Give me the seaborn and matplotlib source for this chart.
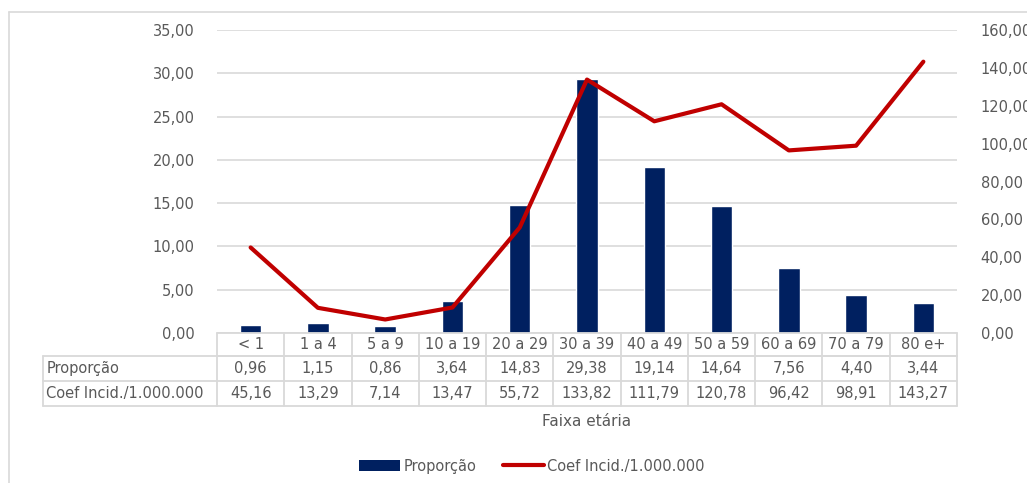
import numpy as np
import pandas as pd
import seaborn as sns
import matplotlib.pyplot as plt
from matplotlib.lines import Line2D
from matplotlib.patches import Patch
from matplotlib.ticker import FuncFormatter
import matplotlib.transforms as mtransforms

# data
faixas = ["< 1", "1 a 4", "5 a 9", "10 a 19", "20 a 29", "30 a 39",
          "40 a 49", "50 a 59", "60 a 69", "70 a 79", "80 e+"]
proporcao = [0.96, 1.15, 0.86, 3.64, 14.83, 29.38, 19.14, 14.64, 7.56, 4.40, 3.44]
coef_incid = [45.16, 13.29, 7.14, 13.47, 55.72, 133.82, 111.79, 120.78, 96.42, 98.91, 143.27]
serie_bar = "Proporção"
serie_line = "Coef Incid./1.000.000"

df = pd.DataFrame({"faixa": faixas, "prop": proporcao, "coef": coef_incid})

sns.set_style("white")
plt.rcParams["font.family"] = ["DejaVu Sans"]

gray_txt = "#595959"
grid_c = "#D9D9D9"
bar_c = "#002060"
line_c = "#C00000"
fs = 10.5

W, H = 1027, 483
fig = plt.figure(figsize=(W / 100, H / 100), dpi=100)
x0, x1, y0, y1 = 217, 957, 30, 333
ax = fig.add_axes([x0 / W, 1 - y1 / H, (x1 - x0) / W, (y1 - y0) / H])

sns.barplot(data=df, x="faixa", y="prop", color=bar_c, width=0.32,
            saturation=1, ax=ax, zorder=2)
ax.set_xlim(-0.5, len(faixas) - 0.5)
ax.set_ylim(0, 35)
ax.set_yticks(np.arange(0, 35.1, 5))
ax.yaxis.grid(True, color=grid_c, lw=1.2, zorder=0)
ax.set_axisbelow(True)

ax2 = ax.twinx()
ax2.plot(np.arange(len(faixas)), df["coef"], color=line_c, lw=3,
         solid_capstyle="round", zorder=3)
ax2.set_ylim(0, 160)
ax2.set_yticks(np.arange(0, 160.1, 20))

fmt = FuncFormatter(lambda v, p: f"{v:.2f}".replace(".", ","))
for a in (ax, ax2):
    a.yaxis.set_major_formatter(fmt)
    a.tick_params(axis="y", length=0, labelsize=fs, labelcolor=gray_txt)
    for s in a.spines.values():
        s.set_visible(False)
ax.tick_params(axis="y", pad=16)
ax2.tick_params(axis="y", pad=17)
ax.set_xticks([])
ax.set_xlabel("")
ax.set_ylabel("")
ax2.set_ylabel("")

# data table under the plot
trans = mtransforms.blended_transform_factory(ax.transData, ax.transAxes)
ah = y1 - y0
r0, r1, r2, r3 = 0, -23 / ah, -48 / ah, -73 / ah
xl = -0.5 - (x0 - 43) / ((x1 - x0) / len(faixas))
xr = len(faixas) - 0.5
lkw = dict(color=grid_c, lw=1.3, transform=trans, clip_on=False)
for yy in (r0, r1):
    ax.add_line(Line2D([-0.5, xr], [yy, yy], **lkw))
for yy in (r1, r2, r3):
    ax.add_line(Line2D([xl, xr], [yy, yy], **lkw))
ax.add_line(Line2D([xl, xl], [r1, r3], **lkw))
for i in range(len(faixas) + 1):
    ax.add_line(Line2D([i - 0.5, i - 0.5], [r0, r3], **lkw))

tkw = dict(transform=trans, fontsize=fs, color=gray_txt, va="center")
for i, lab in enumerate(faixas):
    ax.text(i, (r0 + r1) / 2, lab, ha="center", **tkw)
    ax.text(i, (r1 + r2) / 2, f"{proporcao[i]:.2f}".replace(".", ","), ha="center", **tkw)
    ax.text(i, (r2 + r3) / 2, f"{coef_incid[i]:.2f}".replace(".", ","), ha="center", **tkw)
ax.text(xl + 0.05, (r1 + r2) / 2, serie_bar, ha="left", **tkw)
ax.text(xl + 0.05, (r2 + r3) / 2, serie_line, ha="left", **tkw)

fig.text(587 / W, 1 - 422 / H, "Faixa etária", ha="center", va="center",
         fontsize=fs + 0.5, color=gray_txt)

handles = [Patch(facecolor=bar_c, edgecolor="none"),
           Line2D([], [], color=line_c, lw=3)]
fig.legend(handles, [serie_bar, serie_line], loc="center",
           bbox_to_anchor=(532 / W, 1 - 466 / H), ncol=2, frameon=False,
           fontsize=fs, labelcolor=gray_txt, handlelength=2.8,
           handleheight=0.7, handletextpad=0.25, columnspacing=1.8)

# outer chart border
bkw = dict(color=grid_c, lw=1.2, transform=fig.transFigure)
fig.add_artist(Line2D([9 / W, 9 / W], [0, 1 - 12 / H], **bkw))
fig.add_artist(Line2D([9 / W, 1], [1 - 12 / H, 1 - 12 / H], **bkw))

fig.savefig("out.png", dpi=100)
